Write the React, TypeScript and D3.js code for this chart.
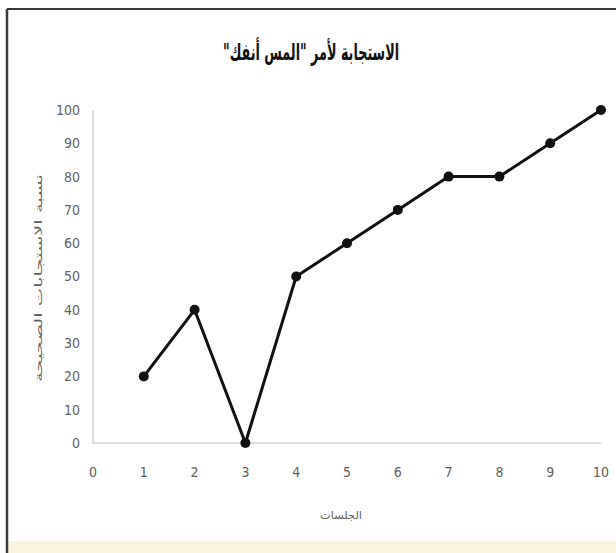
import React from "react";
import * as d3 from "d3";

// Sessions and the percentage of correct responses in each
const sessions = [1, 2, 3, 4, 5, 6, 7, 8, 9, 10];
const correctPct = [20, 40, 0, 50, 60, 70, 80, 80, 90, 100];
const xTicks = [0, 1, 2, 3, 4, 5, 6, 7, 8, 9, 10];
const yTicks = [0, 10, 20, 30, 40, 50, 60, 70, 80, 90, 100];

const titleText = "الاستجابة لأمر \"المس أنفك\"";
const xLabel = "الجلسات";
const yLabel = "نسبة الاستجابات الصحيحة";

const W = 616;
const H = 553;

export default function App() {
  const x = d3.scaleLinear().domain([0, 10]).range([93, 601]);
  const y = d3.scaleLinear().domain([0, 100]).range([443, 110]);
  const points = sessions.map((s, i) => [s, correctPct[i]] as [number, number]);
  const line = d3
    .line<[number, number]>()
    .x((d) => x(d[0]))
    .y((d) => y(d[1]));

  const numFont = "'DejaVu Sans Condensed', 'Liberation Sans Narrow', sans-serif";
  const labelColor = "#5f5f5f";

  return (
    <svg
      width={W}
      height={H}
      viewBox={`0 0 ${W} ${H}`}
      style={{ position: "absolute", left: 0, top: 0, background: "#fff" }}
    >
      <rect x={0} y={0} width={W} height={H} fill="#fff" />
      {/* faint tinted strip along the bottom edge */}
      <rect x={8} y={541} width={W - 8} height={12} fill="#fbf3dc" />
      {/* chart frame */}
      <line x1={7} y1={9} x2={W} y2={9} stroke="#3a3a3a" strokeWidth={2} />
      <line x1={7} y1={9} x2={7} y2={H} stroke="#3a3a3a" strokeWidth={2.5} />

      <text
        x={311}
        y={60}
        textAnchor="middle"
        fontFamily="'DejaVu Sans', serif"
        fontSize={23}
        fontWeight="bold"
        fill="#111"
        direction="rtl"
        textLength={176}
        lengthAdjust="spacingAndGlyphs"
      >
        {titleText}
      </text>

      {/* axes */}
      <line x1={x(0)} y1={y(0)} x2={x(10)} y2={y(0)} stroke="#d0d0d0" strokeWidth={1.5} />
      <line x1={x(0)} y1={y(0)} x2={x(0)} y2={y(100)} stroke="#d0d0d0" strokeWidth={1.5} />

      {yTicks.map((t) => (
        <text
          key={"y" + t}
          x={80}
          y={y(t)}
          dy="0.35em"
          textAnchor="end"
          fontFamily={numFont}
          fontSize={14}
          fill={labelColor}
        >
          {t}
        </text>
      ))}
      {xTicks.map((t) => (
        <text
          key={"x" + t}
          x={x(t)}
          y={472}
          dy="0.35em"
          textAnchor="middle"
          fontFamily={numFont}
          fontSize={14}
          fill={labelColor}
        >
          {t}
        </text>
      ))}

      <text
        x={341}
        y={519}
        textAnchor="middle"
        fontFamily="'DejaVu Sans', sans-serif"
        fontSize={11}
        fill={labelColor}
        direction="rtl"
        textLength={42}
        lengthAdjust="spacingAndGlyphs"
      >
        {xLabel}
      </text>
      <text
        transform={`translate(42, ${278}) rotate(-90)`}
        textAnchor="middle"
        fontFamily="'DejaVu Sans', sans-serif"
        fontSize={10}
        fill={labelColor}
        direction="rtl"
        textLength={208}
        lengthAdjust="spacingAndGlyphs"
      >
        {yLabel}
      </text>

      <path d={line(points) || ""} fill="none" stroke="#111" strokeWidth={3} strokeLinejoin="round" />
      {points.map((p, i) => (
        <circle key={i} cx={x(p[0])} cy={y(p[1])} r={5} fill="#111" />
      ))}
    </svg>
  );
}
